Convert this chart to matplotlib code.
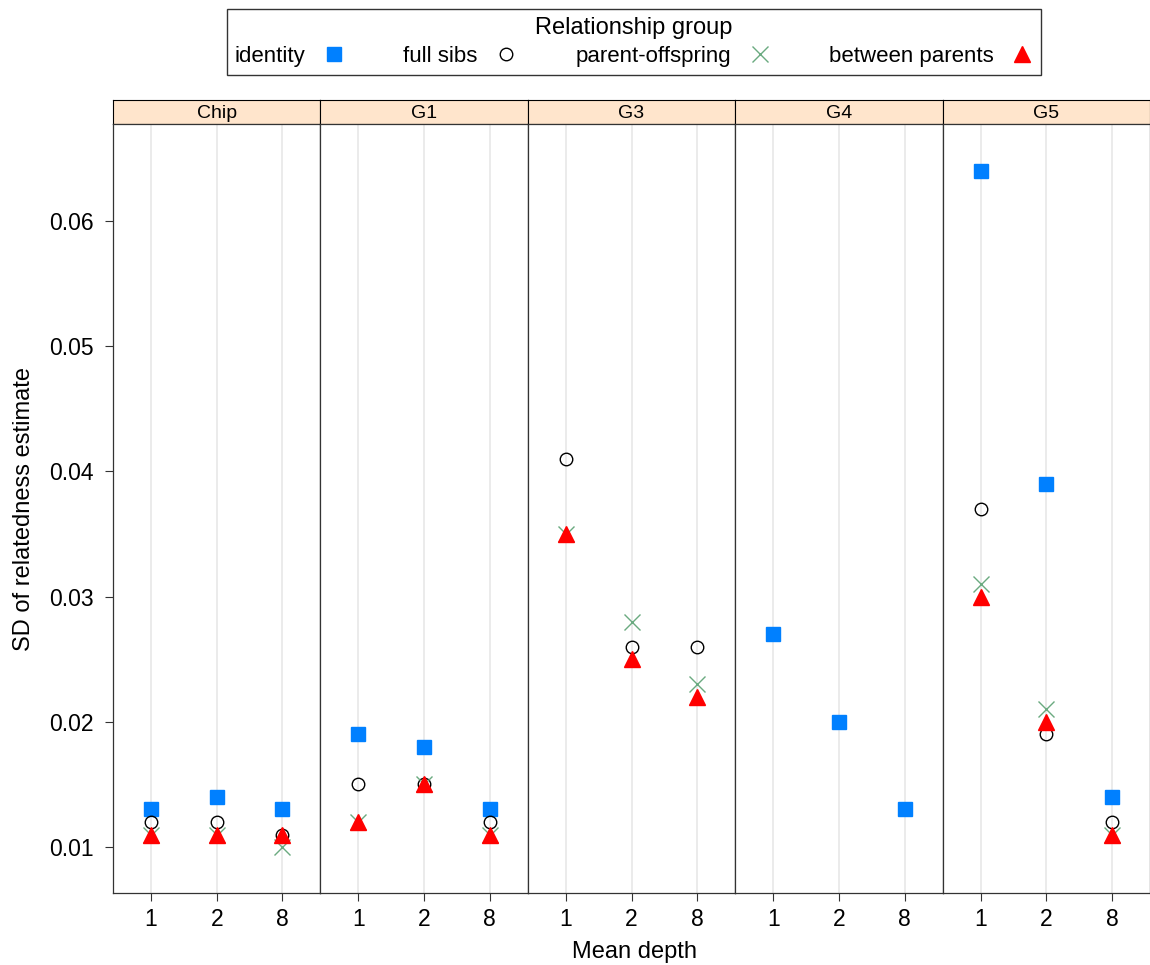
import numpy as np
import matplotlib

matplotlib.use('Agg')
import matplotlib.pyplot as plt
from matplotlib.lines import Line2D

plt.rcParams['font.family'] = ['Liberation Sans', 'DejaVu Sans']

PANELS = ['Chip', 'G1', 'G3', 'G4', 'G5']
DEPTHS = ['1', '2', '8']

# SD of relatedness estimate per panel, depth 1 / 2 / 8 (nan = not shown)
nan = np.nan
identity = {
    'Chip': [0.013, 0.014, 0.013],
    'G1': [0.019, 0.018, 0.013],
    'G3': [nan, nan, nan],
    'G4': [0.027, 0.020, 0.013],
    'G5': [0.064, 0.039, 0.014],
}
full_sibs = {
    'Chip': [0.012, 0.012, 0.011],
    'G1': [0.015, 0.015, 0.012],
    'G3': [0.041, 0.026, 0.026],
    'G4': [nan, nan, nan],
    'G5': [0.037, 0.019, 0.012],
}
parent_offspring = {
    'Chip': [0.011, 0.011, 0.010],
    'G1': [0.012, 0.015, 0.011],
    'G3': [0.035, 0.028, 0.023],
    'G4': [nan, nan, nan],
    'G5': [0.031, 0.021, 0.011],
}
between_parents = {
    'Chip': [0.011, 0.011, 0.011],
    'G1': [0.012, 0.015, 0.011],
    'G3': [0.035, 0.025, 0.022],
    'G4': [nan, nan, nan],
    'G5': [0.030, 0.020, 0.011],
}

GROUPS = [
    ('identity', identity, dict(marker='s', color='#0080ff', mec='#0080ff', ms=10, ls='none')),
    ('full sibs', full_sibs, dict(marker='o', mfc='none', mec='black', ms=9, mew=1.0, ls='none')),
    ('parent-offspring', parent_offspring, dict(marker='x', color='#6aaa80', ms=11, mew=1.0, ls='none')),
    ('between parents', between_parents, dict(marker='^', color='#ff0000', mec='#ff0000', ms=11, ls='none')),
]

fig = plt.figure(figsize=(11.5, 9.65), dpi=100)
gs = fig.add_gridspec(2, 5, height_ratios=[24, 769], left=113 / 1150, right=1.0,
                      bottom=1 - 893 / 965, top=1 - 100 / 965, wspace=0, hspace=0)

x = np.arange(1, 4)
axes = []
for j, name in enumerate(PANELS):
    strip = fig.add_subplot(gs[0, j])
    strip.set_facecolor('#ffe5cc')
    strip.set_xticks([]); strip.set_yticks([])
    strip.text(0.5, 0.45, name, ha='center', va='center', fontsize=14, transform=strip.transAxes)
    for s in strip.spines.values():
        s.set_color('black'); s.set_linewidth(0.8)

    ax = fig.add_subplot(gs[1, j])
    for xi in x:
        ax.axvline(xi, color='#e8e8e8', lw=1.2, zorder=0)
    for label, data, style in GROUPS:
        ax.plot(x, data[name], zorder=3, **style)
    ax.set_xlim(0.42, 3.58)
    ax.set_ylim(0.00633, 0.06775)
    ax.set_xticks(x)
    ax.set_xticklabels(DEPTHS, fontsize=16.5)
    ax.tick_params(axis='x', direction='out', length=6, width=0.8, color='#333333', pad=5)
    if j == 0:
        ax.set_yticks([0.01, 0.02, 0.03, 0.04, 0.05, 0.06])
        ax.set_yticklabels(['0.01', '0.02', '0.03', '0.04', '0.05', '0.06'], fontsize=16.5)
        ax.tick_params(axis='y', direction='out', length=6, width=0.8, color='#333333', pad=8)
        ax.set_ylabel('SD of relatedness estimate', fontsize=17, labelpad=10)
    else:
        ax.set_yticks([])
    for s in ax.spines.values():
        s.set_color('#333333'); s.set_linewidth(0.9)
    axes.append(ax)

fig.text(634 / 1150, 1 - 952 / 965, 'Mean depth', ha='center', va='center', fontsize=17)

handles = [Line2D([], [], **style) for _, _, style in GROUPS]
labels = [g[0] for g in GROUPS]
leg = fig.legend(handles, labels, loc='center', bbox_to_anchor=(634 / 1150, 1 - 42 / 965),
                 ncol=4, markerfirst=False, frameon=True, fancybox=False,
                 title='Relationship group', title_fontsize=17, fontsize=16,
                 columnspacing=2.6, handletextpad=0.8, handlelength=1.0,
                 borderpad=0.35, labelspacing=0.3, borderaxespad=0)
leg.get_frame().set_edgecolor('black')
leg.get_frame().set_linewidth(1.0)

fig.savefig('out.png', dpi=100)
